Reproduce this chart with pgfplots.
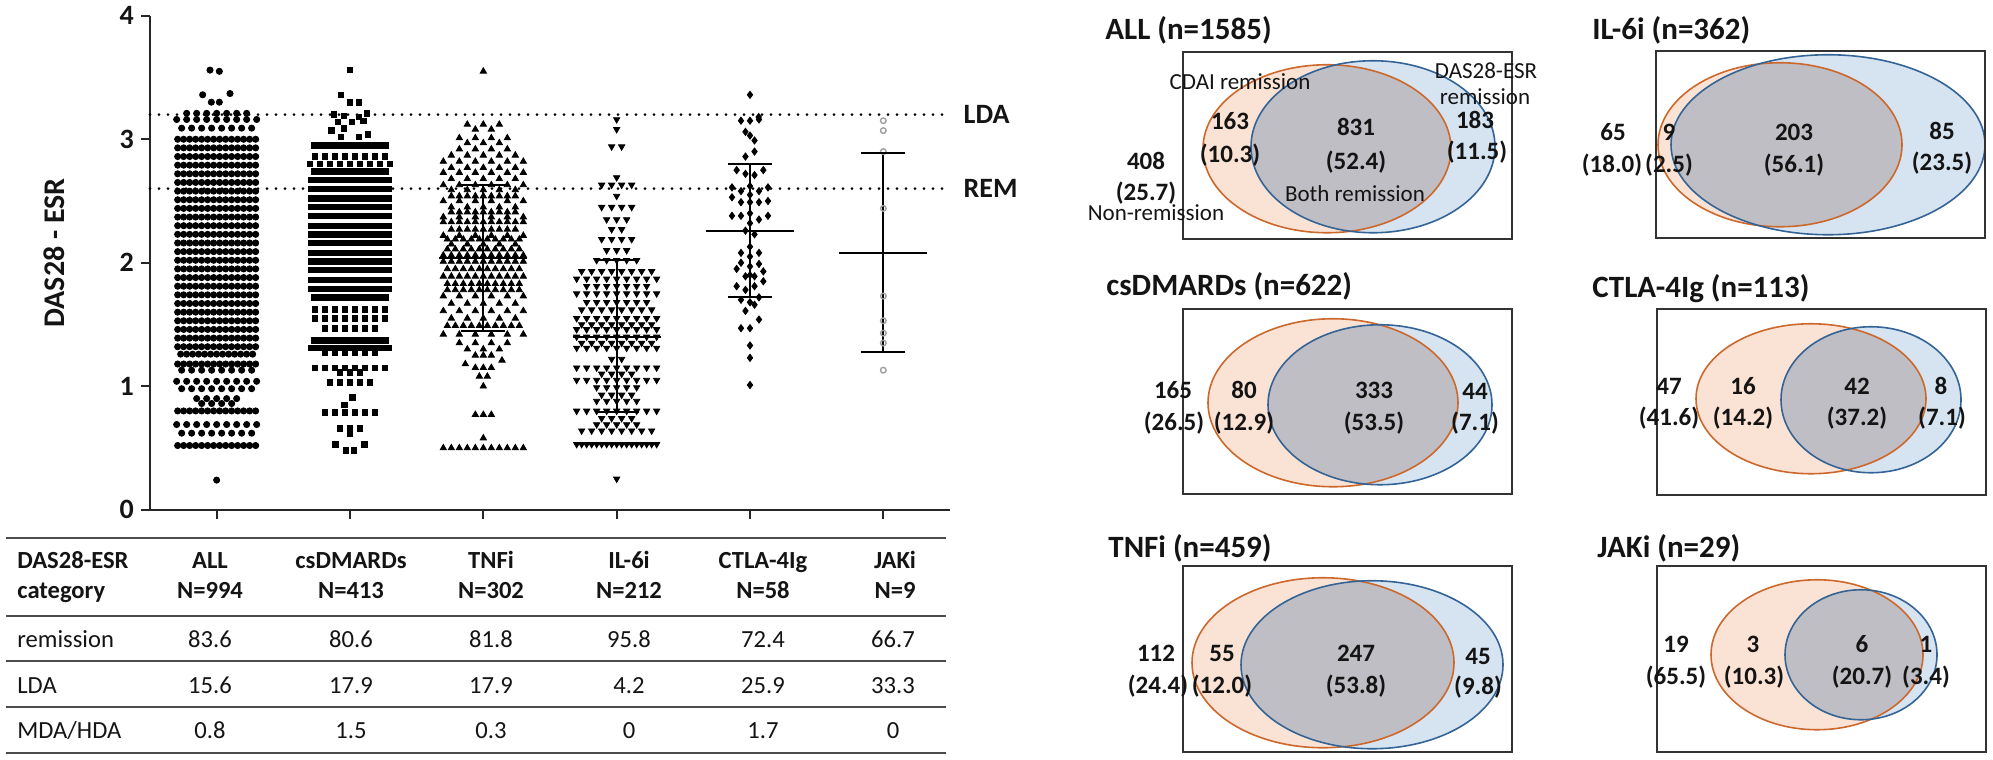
\documentclass[border=0pt]{standalone}
\usepackage{fontspec}
\setmainfont{Carlito}
\usepackage{pgfplots}
\pgfplotsset{compat=1.18}
\usepackage{pgfplotstable}

\definecolor{vorf}{RGB}{250,227,212}
\definecolor{vbf}{RGB}{214,228,242}
\definecolor{vgf}{RGB}{191,190,196}
\definecolor{vos}{RGB}{204,104,44}
\definecolor{vbs}{RGB}{52,100,150}
\definecolor{txt}{RGB}{20,20,20}

\newcommand{\fnum}{\fontsize{12.5}{15}\selectfont\bfseries}
\newcommand{\flab}{\fontsize{11.5}{14}\selectfont}
\newcommand{\ftit}{\fontsize{15.5}{18}\selectfont\bfseries}
\newcommand{\ftab}{\fontsize{12.3}{15}\selectfont}
\newcommand{\ftabb}{\fontsize{12.3}{15}\selectfont\bfseries}

% beeswarm rows: each table line gives a value y and the number n of points
% lying side by side at that value; #1 centre, #2 spacing, #3 mark style, #4 table, #5 max n-1
\newcommand{\swarm}[5]{%
  \pgfplotsinvokeforeach{0,...,#5}{%
    \addplot[only marks, forget plot, #3]
      table[x expr={\thisrow{n}>##1 ? #1+(##1-(\thisrow{n}-1)/2)*#2 : nan}, y=y] {#4};
  }%
}

\newcommand{\venn}[8]{%
  \fill[vorf] (axis cs:#1,#2) ellipse [x radius=#3pt, y radius=#4pt];
  \fill[vbf] (axis cs:#5,#6) ellipse [x radius=#7pt, y radius=#8pt];
  \begin{scope}
    \clip (axis cs:#1,#2) ellipse [x radius=#3pt, y radius=#4pt];
    \fill[vgf] (axis cs:#5,#6) ellipse [x radius=#7pt, y radius=#8pt];
  \end{scope}
  \draw[vos, line width=0.8pt] (axis cs:#1,#2) ellipse [x radius=#3pt, y radius=#4pt];
  \draw[vbs, line width=0.8pt] (axis cs:#5,#6) ellipse [x radius=#7pt, y radius=#8pt];
}

% ---------------- data ----------------
\pgfplotstableread{
y n
3.00 14
2.93 14
2.86 14
2.79 14
2.72 14
2.65 14
2.58 14
2.51 14
2.44 14
2.37 14
2.30 14
2.23 14
2.16 14
2.09 14
2.02 14
1.95 14
1.88 14
1.81 14
1.74 14
1.67 14
1.60 14
1.53 14
1.46 14
1.39 14
1.32 14
1.26 13
1.18 14
0.80 14
0.52 14
}\allDense
\pgfplotstableread{
y n
3.21 7
3.16 9
3.09 8
1.13 8
1.04 9
0.98 8
0.90 5
0.86 4
0.69 9
0.62 8
}\allSparse
\pgfplotstableread{
dx y
-0.05 3.56
0.02 3.55
-0.105 3.36
0.10 3.37
-0.04 3.30
0.02 3.30
0 0.24
}\allSingle

\pgfplotstableread{
y n
2.95 13
2.74 13
2.67 14
2.60 14
2.52 14
2.45 14
2.38 14
2.30 14
2.23 14
2.16 14
2.08 14
2.01 14
1.94 14
1.86 14
1.79 14
1.72 13
1.37 13
1.31 14
}\csDense
\pgfplotstableread{
y n
2.86 8
2.80 9
1.62 8
1.55 8
1.47 6
1.27 6
1.15 8
1.11 3
1.03 5
0.79 6
0.66 3
}\csSparse
\pgfplotstableread{
dx y
0 3.56
-0.068 3.36
0 3.30
0.068 3.30
-0.12 3.20
-0.045 3.19
0.068 3.18
0.128 3.21
-0.09 3.14
0.015 3.14
0.10 3.15
-0.14 3.07
-0.045 3.09
-0.068 3.02
0.068 3.02
0.135 3.04
0.02 0.91
-0.04 0.85
0 0.62
-0.11 0.53
0.11 0.53
-0.03 0.48
0.03 0.48
}\csSingle

\pgfplotstableread{
y n
3.12 3
3.08 2
3.01 4
2.97 3
2.92 4
2.87 5
2.82 6
2.77 5
2.73 6
2.68 5
2.63 6
2.59 5
2.50 6
2.45 5
2.37 6
2.22 6
2.15 5
1.73 6
1.67 5
1.61 6
1.55 5
1.42 6
1.35 4
1.30 3
}\tnfSparse
\pgfplotstableread{
y n
2.54 9
2.41 9
2.33 11
2.27 9
2.19 10
2.11 10
2.06 11
2.01 11
1.95 10
1.89 11
1.83 10
1.78 10
1.49 10
1.25 3
1.15 3
1.08 2
0.77 3
0.50 11
}\tnfDense
\pgfplotstableread{
dx y
0 3.55
0.14 1.21
-0.135 1.18
0 1.00
0 0.58
}\tnfSingle

\pgfplotstableread{
y n
3.16 1
3.08 1
2.94 2
2.69 1
2.63 4
2.54 1
2.45 4
2.35 3
2.27 2
2.19 4
2.10 3
2.02 5
1.93 8
1.87 9
1.81 7
1.75 9
1.68 7
1.62 8
1.55 9
1.50 8
1.46 9
1.40 9
1.35 8
1.31 9
1.22 2
1.15 9
1.10 4
1.05 9
0.99 5
0.93 4
0.88 5
0.80 9
0.74 4
0.69 5
0.64 8
}\ilSparse
\pgfplotstableread{
y n
0.53 17
}\ilDense
\pgfplotstableread{
dx y
0 0.25
}\ilSingle

\pgfplotstableread{
dx y
0 3.36
-0.0675 3.15
0 3.15
0.0675 3.16
0.065 3.18
-0.034 3.06
0 3.03
0.034 2.99
0.034 2.90
-0.034 2.86
-0.10 2.75
-0.034 2.72
0.034 2.71
0.10 2.75
-0.135 2.61
-0.0675 2.58
0 2.62
0.0675 2.58
0.135 2.61
-0.135 2.53
0 2.55
-0.0675 2.49
0 2.49
0.0675 2.49
0.135 2.50
-0.135 2.38
-0.0675 2.38
0 2.40
0.0675 2.35
0.135 2.38
0 2.32
-0.034 2.26
0.034 2.23
0 2.13
-0.0675 2.08
0 2.05
0.0675 2.08
-0.0675 2.00
0.0675 1.99
0 1.97
-0.10 1.95
0.10 1.93
0 1.90
-0.034 1.89
0.034 1.89
-0.10 1.81
0.10 1.85
0.034 1.81
-0.034 1.78
-0.0675 1.70
0 1.68
0.0675 1.72
0.034 1.66
-0.034 1.61
0.0675 1.54
-0.0675 1.47
0 1.47
0 1.33
0 1.23
0 1.01
}\ctlaPts

\pgfplotstableread{
y
3.15
3.07
2.90
2.44
1.73
1.53
1.43
1.35
1.13
}\jakPts

\pgfplotstableread{
x m lo hi
2 2.04 1.45 2.63
3 1.40 0.79 2.02
4 2.26 1.72 2.80
5 2.08 1.28 2.89
}\meanSD

\begin{document}
\begin{tikzpicture}
% ---------- overlay axis in pixel units: Venn diagrams and table ----------
\begin{axis}[at={(0,0)}, anchor=north west, width=996.5pt, height=378.5pt,
  scale only axis, xmin=0, xmax=1993, ymin=0, ymax=757, y dir=reverse,
  hide axis, clip=false]
\path (axis cs:0,0) rectangle (axis cs:1993,757);
\pgfplotsextra{%
  \venn{1327}{146}{62}{42}{1373}{144}{61}{43}%
  \venn{1780}{142}{61}{41}{1828}{142}{78.5}{45}%
  \venn{1333}{400}{62.5}{42}{1380}{402}{56}{40}%
  \venn{1811}{396}{57.5}{37.5}{1871}{397}{45}{36.5}%
  \venn{1323}{660}{65.5}{42.5}{1372}{662}{65.5}{42}%
  \venn{1817}{652}{53}{37.5}{1861}{652}{38}{32.5}%
}
\draw[line width=0.9pt, black!80] (axis cs:1183,49) rectangle (axis cs:1512,236);
\draw[line width=0.9pt, black!80] (axis cs:1656,48) rectangle (axis cs:1985,235);
\draw[line width=0.9pt, black!80] (axis cs:1183,306) rectangle (axis cs:1512,491);
\draw[line width=0.9pt, black!80] (axis cs:1657,306) rectangle (axis cs:1986,492);
\draw[line width=0.9pt, black!80] (axis cs:1183,563) rectangle (axis cs:1512,749);
\draw[line width=0.9pt, black!80] (axis cs:1657,563) rectangle (axis cs:1986,749);
% titles
\node[anchor=base west, inner sep=0pt, font=\ftit, txt] at (axis cs:1105,37) {ALL (n=1585)};
\node[anchor=base west, inner sep=0pt, font=\ftit, txt] at (axis cs:1592,37) {IL-6i (n=362)};
\node[anchor=base west, inner sep=0pt, font=\ftit, txt] at (axis cs:1106,293) {csDMARDs (n=622)};
\node[anchor=base west, inner sep=0pt, font=\ftit, txt] at (axis cs:1592,295) {CTLA-4Ig (n=113)};
\node[anchor=base west, inner sep=0pt, font=\ftit, txt] at (axis cs:1108,555) {TNFi (n=459)};
\node[anchor=base west, inner sep=0pt, font=\ftit, txt] at (axis cs:1597,555) {JAKi (n=29)};
% ALL
\node[anchor=base, inner sep=0pt, font=\flab, txt] at (axis cs:1240,87) {CDAI remission};
\node[anchor=base, inner sep=0pt, font=\flab, txt] at (axis cs:1355,199) {Both remission};
\node[anchor=base, inner sep=0pt, font=\flab, txt] at (axis cs:1156,218) {Non-remission};
\node[anchor=base, inner sep=0pt, font=\flab, txt] at (axis cs:1486,76) {DAS28-ESR};
\node[anchor=base, inner sep=0pt, font=\flab, txt] at (axis cs:1485,102) {remission};
\node[anchor=base, inner sep=0pt, font=\fnum, txt] at (axis cs:1230,127) {163};
\node[anchor=base, inner sep=0pt, font=\fnum, txt] at (axis cs:1230,160) {(10.3)};
\node[anchor=base, inner sep=0pt, font=\fnum, txt] at (axis cs:1356,133) {831};
\node[anchor=base, inner sep=0pt, font=\fnum, txt] at (axis cs:1356,167) {(52.4)};
\node[anchor=base, inner sep=0pt, font=\fnum, txt] at (axis cs:1146,167) {408};
\node[anchor=base, inner sep=0pt, font=\fnum, txt] at (axis cs:1146,198) {(25.7)};
\node[anchor=base, inner sep=0pt, font=\fnum, txt] at (axis cs:1475,126) {183};
\node[anchor=base, inner sep=0pt, font=\fnum, txt] at (axis cs:1477,157) {(11.5)};
% IL-6i
\node[anchor=base, inner sep=0pt, font=\fnum, txt] at (axis cs:1613,138) {65};
\node[anchor=base, inner sep=0pt, font=\fnum, txt] at (axis cs:1612,170) {(18.0)};
\node[anchor=base, inner sep=0pt, font=\fnum, txt] at (axis cs:1669,138) {9};
\node[anchor=base, inner sep=0pt, font=\fnum, txt] at (axis cs:1669,170) {(2.5)};
\node[anchor=base, inner sep=0pt, font=\fnum, txt] at (axis cs:1794,138) {203};
\node[anchor=base, inner sep=0pt, font=\fnum, txt] at (axis cs:1794,170) {(56.1)};
\node[anchor=base, inner sep=0pt, font=\fnum, txt] at (axis cs:1942,137) {85};
\node[anchor=base, inner sep=0pt, font=\fnum, txt] at (axis cs:1942,168) {(23.5)};
% csDMARDs
\node[anchor=base, inner sep=0pt, font=\fnum, txt] at (axis cs:1173,396) {165};
\node[anchor=base, inner sep=0pt, font=\fnum, txt] at (axis cs:1174,428) {(26.5)};
\node[anchor=base, inner sep=0pt, font=\fnum, txt] at (axis cs:1244,396) {80};
\node[anchor=base, inner sep=0pt, font=\fnum, txt] at (axis cs:1244,428) {(12.9)};
\node[anchor=base, inner sep=0pt, font=\fnum, txt] at (axis cs:1374,396) {333};
\node[anchor=base, inner sep=0pt, font=\fnum, txt] at (axis cs:1374,428) {(53.5)};
\node[anchor=base, inner sep=0pt, font=\fnum, txt] at (axis cs:1475,397) {44};
\node[anchor=base, inner sep=0pt, font=\fnum, txt] at (axis cs:1475,428) {(7.1)};
% CTLA-4Ig
\node[anchor=base, inner sep=0pt, font=\fnum, txt] at (axis cs:1669,392) {47};
\node[anchor=base, inner sep=0pt, font=\fnum, txt] at (axis cs:1669,423) {(41.6)};
\node[anchor=base, inner sep=0pt, font=\fnum, txt] at (axis cs:1743,392) {16};
\node[anchor=base, inner sep=0pt, font=\fnum, txt] at (axis cs:1743,423) {(14.2)};
\node[anchor=base, inner sep=0pt, font=\fnum, txt] at (axis cs:1857,392) {42};
\node[anchor=base, inner sep=0pt, font=\fnum, txt] at (axis cs:1857,423) {(37.2)};
\node[anchor=base, inner sep=0pt, font=\fnum, txt] at (axis cs:1941,392) {8};
\node[anchor=base, inner sep=0pt, font=\fnum, txt] at (axis cs:1942,423) {(7.1)};
% TNFi
\node[anchor=base, inner sep=0pt, font=\fnum, txt] at (axis cs:1156,659) {112};
\node[anchor=base, inner sep=0pt, font=\fnum, txt] at (axis cs:1158,691) {(24.4)};
\node[anchor=base, inner sep=0pt, font=\fnum, txt] at (axis cs:1222,659) {55};
\node[anchor=base, inner sep=0pt, font=\fnum, txt] at (axis cs:1222,691) {(12.0)};
\node[anchor=base, inner sep=0pt, font=\fnum, txt] at (axis cs:1356,659) {247};
\node[anchor=base, inner sep=0pt, font=\fnum, txt] at (axis cs:1356,691) {(53.8)};
\node[anchor=base, inner sep=0pt, font=\fnum, txt] at (axis cs:1478,662) {45};
\node[anchor=base, inner sep=0pt, font=\fnum, txt] at (axis cs:1478,692) {(9.8)};
% JAKi
\node[anchor=base, inner sep=0pt, font=\fnum, txt] at (axis cs:1676,650) {19};
\node[anchor=base, inner sep=0pt, font=\fnum, txt] at (axis cs:1676,682) {(65.5)};
\node[anchor=base, inner sep=0pt, font=\fnum, txt] at (axis cs:1753,650) {3};
\node[anchor=base, inner sep=0pt, font=\fnum, txt] at (axis cs:1754,682) {(10.3)};
\node[anchor=base, inner sep=0pt, font=\fnum, txt] at (axis cs:1862,650) {6};
\node[anchor=base, inner sep=0pt, font=\fnum, txt] at (axis cs:1862,682) {(20.7)};
\node[anchor=base, inner sep=0pt, font=\fnum, txt] at (axis cs:1926,650) {1};
\node[anchor=base, inner sep=0pt, font=\fnum, txt] at (axis cs:1926,682) {(3.4)};
% ---------- table ----------
\draw[line width=1.2pt, black!70] (axis cs:6,535) -- (axis cs:946,535);
\draw[line width=1.2pt, black!70] (axis cs:6,613) -- (axis cs:946,613);
\draw[line width=1.2pt, black!70] (axis cs:6,658) -- (axis cs:946,658);
\draw[line width=1.2pt, black!70] (axis cs:6,704) -- (axis cs:946,704);
\draw[line width=1.2pt, black!70] (axis cs:6,750) -- (axis cs:946,750);
\node[anchor=base west, inner sep=0pt, font=\ftabb, txt] at (axis cs:17,566) {DAS28-ESR};
\node[anchor=base west, inner sep=0pt, font=\ftabb, txt] at (axis cs:17,596) {category};
\node[anchor=base west, inner sep=0pt, font=\ftab, txt] at (axis cs:17,645) {remission};
\node[anchor=base west, inner sep=0pt, font=\ftab, txt] at (axis cs:17,691) {LDA};
\node[anchor=base west, inner sep=0pt, font=\ftab, txt] at (axis cs:17,736) {MDA/HDA};
\node[anchor=base, inner sep=0pt, font=\ftabb, txt] at (axis cs:210,566) {ALL};
\node[anchor=base, inner sep=0pt, font=\ftabb, txt] at (axis cs:351,566) {csDMARDs};
\node[anchor=base, inner sep=0pt, font=\ftabb, txt] at (axis cs:491,566) {TNFi};
\node[anchor=base, inner sep=0pt, font=\ftabb, txt] at (axis cs:629,566) {IL-6i};
\node[anchor=base, inner sep=0pt, font=\ftabb, txt] at (axis cs:763,566) {CTLA-4Ig};
\node[anchor=base, inner sep=0pt, font=\ftabb, txt] at (axis cs:895,566) {JAKi};
\node[anchor=base, inner sep=0pt, font=\ftabb, txt] at (axis cs:210,596) {N=994};
\node[anchor=base, inner sep=0pt, font=\ftabb, txt] at (axis cs:351,596) {N=413};
\node[anchor=base, inner sep=0pt, font=\ftabb, txt] at (axis cs:491,596) {N=302};
\node[anchor=base, inner sep=0pt, font=\ftabb, txt] at (axis cs:629,596) {N=212};
\node[anchor=base, inner sep=0pt, font=\ftabb, txt] at (axis cs:763,596) {N=58};
\node[anchor=base, inner sep=0pt, font=\ftabb, txt] at (axis cs:895,596) {N=9};
\node[anchor=base, inner sep=0pt, font=\ftab, txt] at (axis cs:210,645) {83.6};
\node[anchor=base, inner sep=0pt, font=\ftab, txt] at (axis cs:351,645) {80.6};
\node[anchor=base, inner sep=0pt, font=\ftab, txt] at (axis cs:491,645) {81.8};
\node[anchor=base, inner sep=0pt, font=\ftab, txt] at (axis cs:629,645) {95.8};
\node[anchor=base, inner sep=0pt, font=\ftab, txt] at (axis cs:763,645) {72.4};
\node[anchor=base, inner sep=0pt, font=\ftab, txt] at (axis cs:893,645) {66.7};
\node[anchor=base, inner sep=0pt, font=\ftab, txt] at (axis cs:210,691) {15.6};
\node[anchor=base, inner sep=0pt, font=\ftab, txt] at (axis cs:351,691) {17.9};
\node[anchor=base, inner sep=0pt, font=\ftab, txt] at (axis cs:491,691) {17.9};
\node[anchor=base, inner sep=0pt, font=\ftab, txt] at (axis cs:629,691) {4.2};
\node[anchor=base, inner sep=0pt, font=\ftab, txt] at (axis cs:763,691) {25.9};
\node[anchor=base, inner sep=0pt, font=\ftab, txt] at (axis cs:893,691) {33.3};
\node[anchor=base, inner sep=0pt, font=\ftab, txt] at (axis cs:210,736) {0.8};
\node[anchor=base, inner sep=0pt, font=\ftab, txt] at (axis cs:351,736) {1.5};
\node[anchor=base, inner sep=0pt, font=\ftab, txt] at (axis cs:491,736) {0.3};
\node[anchor=base, inner sep=0pt, font=\ftab, txt] at (axis cs:629,736) {0};
\node[anchor=base, inner sep=0pt, font=\ftab, txt] at (axis cs:763,736) {1.7};
\node[anchor=base, inner sep=0pt, font=\ftab, txt] at (axis cs:893,736) {0};
\end{axis}

% ---------- scatter (beeswarm) axis ----------
\begin{axis}[at={(75pt,-253.5pt)}, anchor=south west, width=400pt, height=247pt,
  scale only axis, xmin=-0.5, xmax=5.5, ymin=0, ymax=4, clip=false,
  axis x line=bottom, axis y line=left,
  axis line style={-, line width=1.1pt, black!85},
  every tick/.style={line width=1.1pt, black!85},
  tick align=outside, major tick length=4.5pt,
  xtick={0,1,2,3,4,5}, xticklabels={},
  ytick={0,1,2,3,4}, yticklabels={0,1,2,3,4},
  yticklabel style={font=\fontsize{14}{16}\selectfont\bfseries, txt},
  ylabel={DAS28 - ESR},
  every axis y label/.style={at={(axis description cs:-0.12,0.52)}, rotate=90, anchor=center},
  ylabel style={font=\fontsize{15}{18}\selectfont\bfseries, txt},
]
\addplot[line width=1.5pt, dash pattern=on 0pt off 4.5pt, line cap=round, black] coordinates {(-0.5,3.2) (5.5,3.2)};
\addplot[line width=1.5pt, dash pattern=on 0pt off 4.5pt, line cap=round, black] coordinates {(-0.5,2.6) (5.5,2.6)};

% ALL
\swarm{0}{0.045}{mark=*, mark size=1.55pt, black}{\allDense}{13}
\swarm{0}{0.075}{mark=*, mark size=1.55pt, black}{\allSparse}{8}
\addplot[only marks, mark=*, mark size=1.55pt, black] table[x expr=\thisrow{dx}, y=y] {\allSingle};
% csDMARDs
\swarm{1}{0.045}{mark=square*, mark size=1.35pt, black}{\csDense}{13}
\swarm{1}{0.075}{mark=square*, mark size=1.4pt, black}{\csSparse}{8}
\addplot[only marks, mark=square*, mark size=1.4pt, black] table[x expr=\thisrow{dx}+1, y=y] {\csSingle};
% TNFi
\swarm{2}{0.12}{mark=triangle*, mark size=1.8pt, black}{\tnfSparse}{5}
\swarm{2}{0.06}{mark=triangle*, mark size=1.8pt, black}{\tnfDense}{10}
\addplot[only marks, mark=triangle*, mark size=1.8pt, black] table[x expr=\thisrow{dx}+2, y=y] {\tnfSingle};
% IL-6i
\swarm{3}{0.075}{mark=triangle*, mark size=1.8pt, mark options={rotate=180}, black}{\ilSparse}{8}
\swarm{3}{0.0375}{mark=triangle*, mark size=1.8pt, mark options={rotate=180}, black}{\ilDense}{16}
\addplot[only marks, mark=triangle*, mark size=1.8pt, mark options={rotate=180}, black] table[x expr=\thisrow{dx}+3, y=y] {\ilSingle};
% CTLA-4Ig
\addplot[only marks, mark=diamond*, mark size=1.8pt, black] table[x expr=\thisrow{dx}+4, y=y] {\ctlaPts};
% JAKi
\addplot[only marks, mark=o, mark size=1.4pt, mark options={gray!75, line width=0.7pt}] table[x expr=5, y=y] {\jakPts};
% mean with SD range
\addplot[only marks, black, mark=-, mark size=22pt, mark options={line width=1pt, black},
  error bars/.cd, y dir=both, y explicit, error mark=none,
  error bar style={line width=1pt, black}]
  table[x=x, y=m, y error plus expr=\thisrow{hi}-\thisrow{m}, y error minus expr=\thisrow{m}-\thisrow{lo}] {\meanSD};
\addplot[only marks, black, mark=-, mark size=11pt, mark options={line width=1pt, black}] table[x=x, y=hi] {\meanSD};
\addplot[only marks, black, mark=-, mark size=11pt, mark options={line width=1pt, black}] table[x=x, y=lo] {\meanSD};

\node[anchor=west, inner sep=0pt, font=\fontsize{14}{16}\selectfont\bfseries, txt] at (axis cs:5.6,3.2) {LDA};
\node[anchor=west, inner sep=0pt, font=\fontsize{14}{16}\selectfont\bfseries, txt] at (axis cs:5.6,2.6) {REM};
\end{axis}
\end{tikzpicture}
\end{document}
